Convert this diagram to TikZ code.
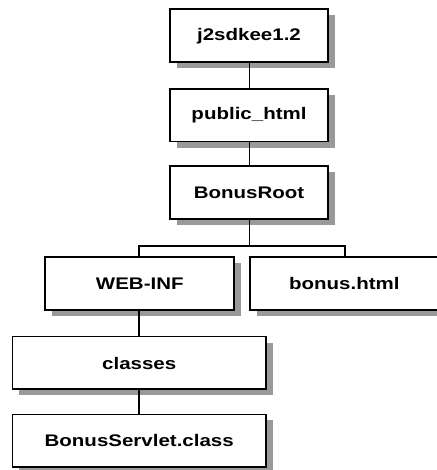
\documentclass[tikz,border=0pt]{standalone}
\usepackage{fontspec}
\newfontfamily\lblfont[FakeStretch=1.22]{Liberation Sans}
\usetikzlibrary{shadows}
\definecolor{shadowgray}{HTML}{999999}
\tikzset{
  dirbox/.style={draw=black, line width=1.7pt, fill=white, minimum height=52.7pt,
    inner sep=0pt, font=\lblfont\bfseries\fontsize{16.8}{20}\selectfont,
    drop shadow={shadow xshift=7pt, shadow yshift=-6pt, fill=shadowgray, opacity=1, draw=none}},
  conn/.style={draw=black, line width=1.9pt}
}
\begin{document}
\begin{tikzpicture}[x=1pt,y=1pt]
\useasboundingbox (0,0) rectangle (436,470);
\fill[white] (0,0) rectangle (436,470);
\node[dirbox, minimum width=158pt] (j2) at (249,434.3) {j2sdkee1.2};
\node[dirbox, minimum width=158pt] (pub) at (249,354.7) {public\_html};
\node[dirbox, minimum width=158pt] (root) at (249,277.5) {BonusRoot};
\node[dirbox, minimum width=189pt] (web) at (139.8,186.3) {WEB-INF};
\node[dirbox, minimum width=189pt] (bonus) at (344.3,186.3) {bonus.html};
\node[dirbox, minimum width=253.7pt] (cls) at (139.2,107) {classes};
\node[dirbox, minimum width=253.7pt] (srv) at (139.2,29.2) {BonusServlet.class};
\coordinate (split) at (249.5,224.3);
\draw[conn] ([xshift=0.5pt]j2.south) -- ([xshift=0.5pt]pub.north);
\draw[conn] ([xshift=0.5pt]pub.south) -- ([xshift=0.5pt]root.north);
\draw[conn] ([xshift=0.5pt]root.south) -- (split);
\draw[conn] (split) -| ([xshift=-0.5pt]web.north);
\draw[conn] (split) -| ([xshift=0.7pt]bonus.north);
\draw[conn] ([xshift=-0.5pt]web.south) -- ([xshift=0.1pt]cls.north);
\draw[conn] (cls.south) -- (srv.north);
\end{tikzpicture}
\end{document}
